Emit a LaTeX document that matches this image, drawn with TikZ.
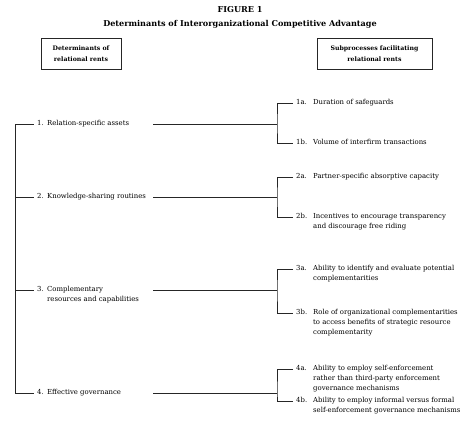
\documentclass[tikz,border=0pt]{standalone}
\usepackage{fontspec}
\setmainfont{DejaVu Serif}
\usetikzlibrary{calc}
\newcommand{\bodyfnt}{\fontsize{6.9}{9.7}\selectfont}
\newcommand{\boxfnt}{\fontsize{6.2}{11}\selectfont\bfseries}
\newcommand{\titlefnt}{\fontsize{8.1}{9}\selectfont\bfseries}
\newcommand{\numL}[1]{\strut\makebox[10pt][l]{#1}}
\newcommand{\numR}[1]{\strut\makebox[17pt][l]{#1}}
\newcommand{\indL}{\hspace*{10pt}}
\newcommand{\indR}{\hspace*{17pt}}
\tikzset{
  txt/.style={anchor=north west, inner xsep=3pt, inner ysep=0pt, align=left, font=\bodyfnt},
  ln/.style={draw=black!85, line width=0.6pt},
  hbox/.style={draw=black!85, line width=0.65pt, minimum height=31pt, align=center, font=\boxfnt, inner sep=0pt}
}
\begin{document}
\begin{tikzpicture}[x=1pt,y=-1pt]
\useasboundingbox (0,0) rectangle (471,437);
% titles
\node[font=\titlefnt] (fig) at (240,10) {FIGURE 1};
\node[font=\titlefnt] (title) at (240,24) {Determinants of Interorganizational Competitive Advantage};
% header boxes
\node[hbox, minimum width=80pt] (hl) at (81,53.5) {Determinants of\\relational rents};
\node[hbox, minimum width=115pt] (hr) at (374.5,53.5) {Subprocesses facilitating\\relational rents};
% left determinants
\node[txt] (d1) at (34,119) {\numL{1.}Relation-specific assets};
\node[txt] (d2) at (34,192) {\numL{2.}Knowledge-sharing routines};
\node[txt] (d3) at (34,285) {\numL{3.}Complementary\\\indL resources and capabilities};
\node[txt] (d4) at (34,388) {\numL{4.}Effective governance};
% right subprocesses
\node[txt] (r1a) at (293,98) {\numR{1a.}Duration of safeguards};
\node[txt] (r1b) at (293,138) {\numR{1b.}Volume of interfirm transactions};
\node[txt] (r2a) at (293,172) {\numR{2a.}Partner-specific absorptive capacity};
\node[txt] (r2b) at (293,212) {\numR{2b.}Incentives to encourage transparency\\\indR and discourage free riding};
\node[txt] (r3a) at (293,264) {\numR{3a.}Ability to identify and evaluate potential\\\indR complementarities};
\node[txt] (r3b) at (293,308) {\numR{3b.}Role of organizational complementarities\\\indR to access benefits of strategic resource\\\indR complementarity};
\node[txt] (r4a) at (293,364) {\numR{4a.}Ability to employ self-enforcement\\\indR rather than third-party enforcement\\\indR governance mechanisms};
\node[txt] (r4b) at (293,396) {\numR{4b.}Ability to employ informal versus formal\\\indR self-enforcement governance mechanisms};
% spine coordinates
\coordinate (s1) at (15,124);
\coordinate (s2) at (15,197);
\coordinate (s3) at (15,290);
\coordinate (s4) at (15,393);
\coordinate (m1) at (153,124);
\coordinate (m2) at (153,197);
\coordinate (m3) at (153,290);
\coordinate (m4) at (153,393);
\coordinate (j1) at (277,124);
\coordinate (j2) at (277,197);
\coordinate (j3) at (277,290);
\coordinate (j4) at (277,393);
% spine
\draw[ln] (s1) -- (s4);
\foreach \i in {1,2,3,4}{
  \draw[ln] (s\i) -- ($(d\i.north west)+(0,5)$);
  \draw[ln] (m\i) -- (j\i);
}
% brackets
\draw[ln] ($(r1a.north west)+(0,5)$) -| (j1) |- ($(r1b.north west)+(0,5)$);
\draw[ln] ($(r2a.north west)+(0,5)$) -| (j2) |- ($(r2b.north west)+(0,5)$);
\draw[ln] ($(r3a.north west)+(0,5)$) -| (j3) |- ($(r3b.north west)+(0,5)$);
\draw[ln] ($(r4a.north west)+(0,5)$) -| (j4) |- ($(r4b.north west)+(0,5)$);
\end{tikzpicture}
\end{document}
